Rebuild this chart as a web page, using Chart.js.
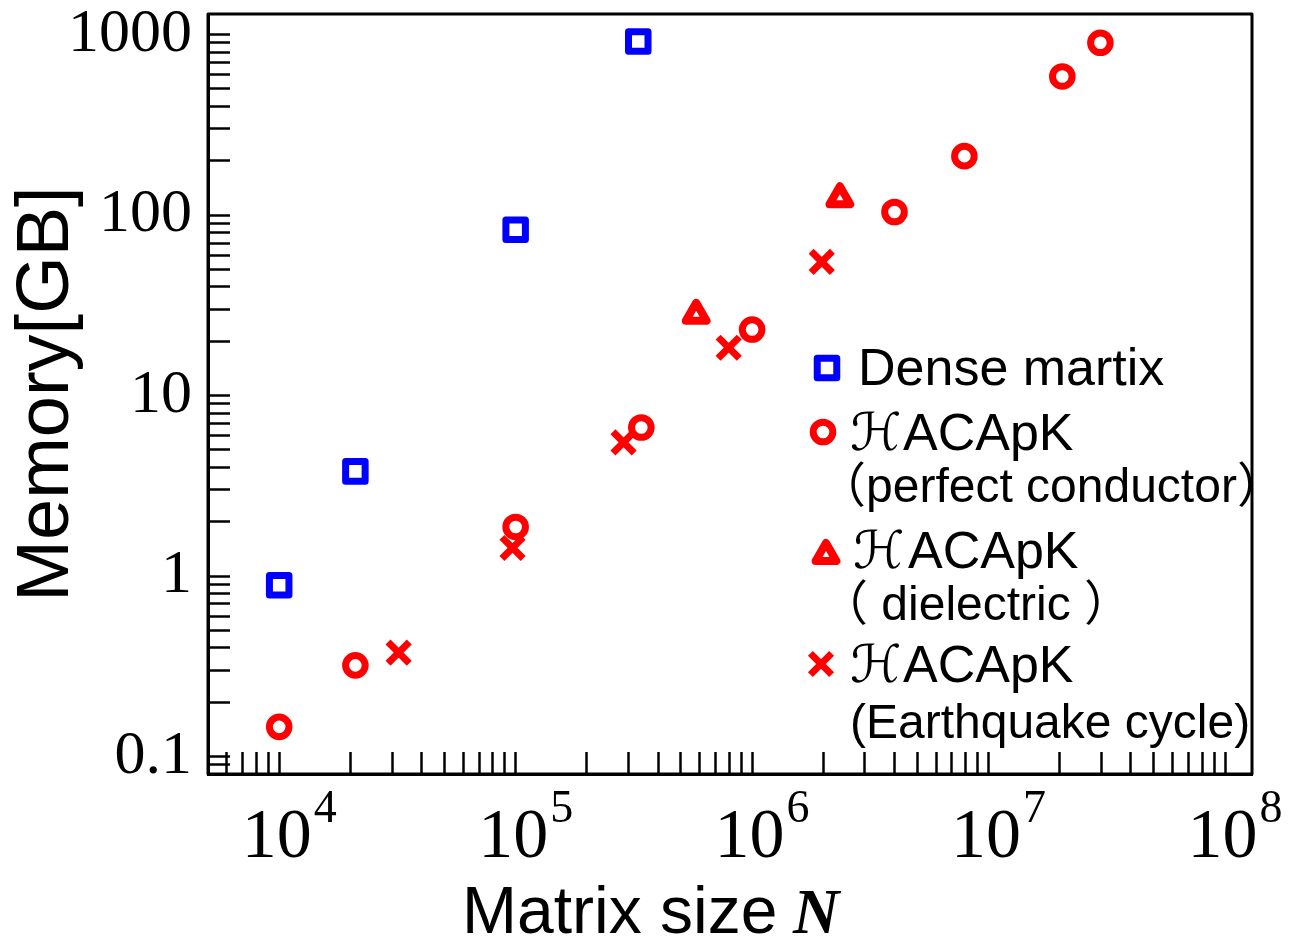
<!DOCTYPE html>
<html>
<head>
<meta charset="utf-8">
<script src="https://cdn.jsdelivr.net/npm/chart.js@4"></script>
<style>
  html, body { margin: 0; padding: 0; background: #fff; }
  #wrap { width: 1289px; height: 940px; }
</style>
</head>
<body>
<div id="wrap"><canvas id="memChart"></canvas></div>
<script>
// Dense matrix
const denseN = [1e4, 2.1e4, 1e5, 3.3e5];
const denseMem = [0.89, 3.8, 83, 915];
// HACApK (perfect conductor)
const pcN = [1e4, 2.1e4, 1e5, 3.4e5, 1e6, 4e6, 7.9e6, 2.05e7, 2.97e7];
const pcMem = [0.146, 0.32, 1.87, 6.65, 23.2, 104, 212, 586, 900];
// HACApK (dielectric)
const dielN = [5.8e5, 2.35e6];
const dielMem = [28, 124];
// HACApK (Earthquake cycle)
const eqN = [3.2e4, 9.7e4, 2.86e5, 7.96e5, 1.97e6];
const eqMem = [0.376, 1.43, 5.5, 18.4, 55];

// axis ticks
const xMajor = [1e4, 1e5, 1e6, 1e7, 1e8];
const xExp = ['4', '5', '6', '7', '8'];
const yMajor = [0.1, 1, 10, 100, 1000];
const yLabels = ['0.1', '1', '10', '100', '1000'];

// legend text
const seriesNames = ['Dense martix', 'ℋACApK', 'ℋACApK', 'ℋACApK'];
const seriesNotes = ['', '（perfect conductor）', '（ dielectric ）', '(Earthquake cycle)'];

const toPts = (xs, ys) => xs.map((v, i) => ({ x: v, y: ys[i] }));

// 1..9 x 10^n ticks between min and max
function logTicks(min, max) {
  const out = [];
  for (let e = Math.floor(Math.log10(min)); e <= Math.ceil(Math.log10(max)); e++) {
    for (let k = 1; k < 10; k++) {
      const v = k * Math.pow(10, e);
      if (v >= min * 0.999 && v <= max * 1.001) out.push({ value: v });
    }
  }
  return out;
}
const isMajor = (arr, v) => arr.findIndex((t) => Math.abs(Math.log10(t) - Math.log10(v)) < 1e-6);

const pointSet = (style, color, radius, width) => ({
  pointStyle: style,
  pointRadius: radius,
  pointHoverRadius: radius,
  pointBorderWidth: width,
  pointHoverBorderWidth: width,
  pointBorderColor: color,
  pointBackgroundColor: "rgba(255,255,255,0)",
  borderColor: color,
  backgroundColor: "rgba(255,255,255,0)",
});

const legendRows = [
  { mx: 827, my: 368, nameY: 385, noteX: 0, noteY: 0 },
  { mx: 823, my: 432, nameY: 450, noteX: 818, noteY: 502 },
  { mx: 826, my: 555, nameY: 568, noteX: 820, noteY: 620 },
  { mx: 821, my: 664, nameY: 682, noteX: 850, noteY: 738 },
];

const extras = {
  id: "extras",
  beforeDatasetsDraw(chart) {
    chart.ctx.lineJoin = "round";
  },
  afterDraw(chart) {
    const { ctx, chartArea: a, scales } = chart;
    ctx.save();
    // frame
    ctx.strokeStyle = "#000";
    ctx.lineWidth = 3;
    ctx.strokeRect(a.left, a.top, a.right - a.left, a.bottom - a.top);

    // x tick labels as 10^n
    ctx.fillStyle = "#000";
    ctx.textAlign = "left";
    ctx.textBaseline = "alphabetic";
    xMajor.forEach((v, i) => {
      const px = scales.x.getPixelForValue(v);
      ctx.font = '70px "Liberation Serif"';
      const w1 = ctx.measureText("10").width;
      ctx.font = '46px "Liberation Serif"';
      const w2 = ctx.measureText(xExp[i]).width;
      const x0 = px - (w1 + w2) / 2 + 9;
      ctx.font = '70px "Liberation Serif"';
      ctx.fillText("10", x0, a.bottom + 83);
      ctx.font = '46px "Liberation Serif"';
      ctx.fillText(xExp[i], x0 + w1 + 2, a.bottom + 48);
    });

    // x title
    ctx.font = '66px "Liberation Sans"';
    ctx.fillText("Matrix size", 462, 933);
    ctx.font = 'italic bold 64px "Liberation Serif"';
    ctx.fillText("N", 793, 933);

    // legend
    chart.data.datasets.forEach((ds, i) => {
      const r = legendRows[i];
      ctx.lineJoin = "round";
      ctx.strokeStyle = ds.pointBorderColor;
      ctx.fillStyle = "rgba(255,255,255,0)";
      ctx.lineWidth = ds.pointBorderWidth;
      Chart.helpers.drawPoint(ctx, {
        pointStyle: ds.pointStyle,
        radius: ds.pointRadius,
        rotation: 0,
        borderWidth: ds.pointBorderWidth,
      }, r.mx, r.my);
      ctx.fillStyle = "#000";
      let name = seriesNames[i];
      let tx = 858;
      if (name.startsWith("ℋ")) {
        ctx.font = '52px "DejaVu Sans"';
        ctx.fillText("ℋ", 850 + (i === 2 ? 3 : 0), r.nameY);
        name = name.slice(1);
        tx = 903 + (i === 2 ? 5 : 0);
      }
      ctx.font = '52px "Liberation Sans"';
      ctx.fillText(name, tx, r.nameY);
      if (seriesNotes[i]) {
        ctx.font = '48px "Liberation Sans", "Noto Sans CJK JP"';
        ctx.fillText(seriesNotes[i], r.noteX, r.noteY);
      }
    });
    ctx.restore();
  },
};

new Chart(document.getElementById("memChart"), {
  type: "scatter",
  data: {
    datasets: [
      { label: seriesNames[0], data: toPts(denseN, denseMem), ...pointSet("rect", "#0000ff", 13.8, 7) },
      { label: seriesNames[1], data: toPts(pcN, pcMem), ...pointSet("circle", "#ff0000", 9.8, 7) },
      { label: seriesNames[2], data: toPts(dielN, dielMem), ...pointSet("triangle", "#ff0000", 12, 8) },
      { label: seriesNames[3], data: toPts(eqN, eqMem), ...pointSet("crossRot", "#ff0000", 15, 7) },
    ],
  },
  options: {
    responsive: true,
    maintainAspectRatio: false,
    animation: false,
    layout: { autoPadding: false, padding: { top: 14, right: 37, left: 0, bottom: 0 } },
    plugins: {
      legend: { display: false },
      tooltip: { enabled: false },
    },
    scales: {
      x: {
        type: "logarithmic",
        position: "bottom",
        min: 5000,
        max: 1.3e8,
        afterBuildTicks: (scale) => { scale.ticks = logTicks(scale.min, scale.max); },
        afterFit: (scale) => {
          scale.height = 166;
          scale.paddingLeft = 0;
          scale.paddingRight = 0;
        },
        grid: { drawOnChartArea: false, tickLength: -22, tickWidth: 2.5, tickColor: "#000" },
        border: { display: true, color: "#000", width: 3 },
        ticks: { autoSkip: false, maxRotation: 0, callback: () => "" },
      },
      y: {
        type: "logarithmic",
        position: "left",
        min: 0.08,
        max: 1300,
        afterBuildTicks: (scale) => { scale.ticks = logTicks(scale.min, scale.max); },
        afterFit: (scale) => {
          scale.width = 208;
          scale.paddingTop = 0;
          scale.paddingBottom = 0;
        },
        grid: { drawOnChartArea: false, tickLength: -22, tickWidth: 2.5, tickColor: "#000" },
        border: { display: true, color: "#000", width: 3 },
        ticks: {
          autoSkip: false,
          padding: 38,
          color: "#000",
          font: { family: "Liberation Serif", size: 62 },
          callback: (v) => {
            const i = isMajor(yMajor, v);
            return i >= 0 ? yLabels[i] : "";
          },
        },
        title: {
          display: true,
          text: "Memory[GB]",
          color: "#000",
          font: { family: "Liberation Sans", size: 74 },
          padding: { top: 3, bottom: 0 },
        },
      },
    },
  },
  plugins: [extras],
});
</script>
</body>
</html>
